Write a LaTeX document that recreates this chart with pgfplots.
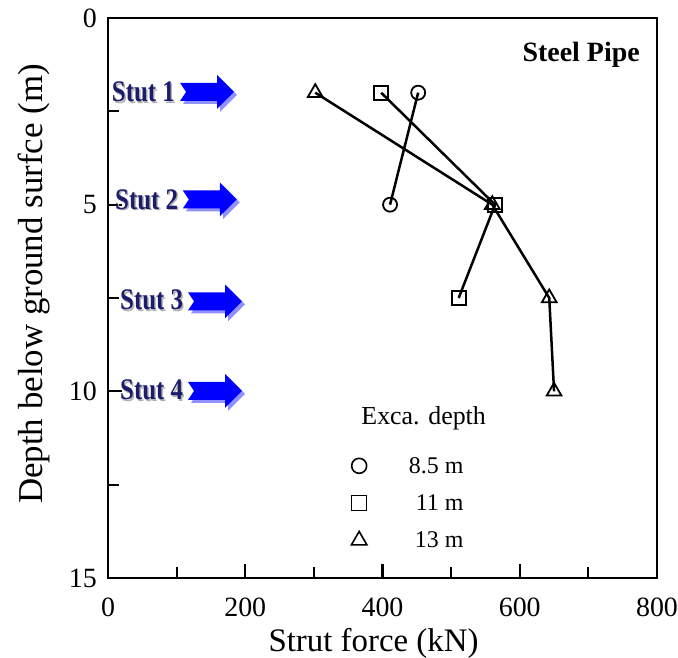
\documentclass[border=0pt]{standalone}
\usepackage{pgfplots}
\pgfplotsset{compat=1.18}
\usepackage{fontspec}
\setmainfont{Liberation Serif}
\usepackage{graphicx}
\definecolor{arrowblue}{HTML}{0000FF}
\definecolor{arrowshade}{HTML}{9090FF}
\definecolor{stutnavy}{HTML}{1C1C6C}

% block arrow with notched tail, tail at (#2,#3) in axis units
\newcommand{\strutarrow}[3]{%
  \fill[#1] ([shift={(0bp,9bp)}]axis cs:#2,#3) -- ([shift={(37bp,9bp)}]axis cs:#2,#3)
    -- ([shift={(37bp,17bp)}]axis cs:#2,#3) -- ([shift={(54bp,0bp)}]axis cs:#2,#3)
    -- ([shift={(37bp,-17bp)}]axis cs:#2,#3) -- ([shift={(37bp,-9bp)}]axis cs:#2,#3)
    -- ([shift={(0bp,-9bp)}]axis cs:#2,#3) -- ([shift={(6bp,0bp)}]axis cs:#2,#3) -- cycle;}
\newcommand{\strutmark}[5]{% label x, label y (baseline), arrow x, arrow y, text
  \node[anchor=base west, text=black!30, font=\bfseries\fontsize{25}{25}\selectfont, inner sep=0pt]
    at ([shift={(1.5bp,-1.5bp)}]axis cs:#1,#2) {\scalebox{1}[1.2]{#5}};
  \node[anchor=base west, text=stutnavy, font=\bfseries\fontsize{25}{25}\selectfont, inner sep=0pt]
    at (axis cs:#1,#2) {\scalebox{1}[1.2]{#5}};
  \strutarrow{arrowshade, xshift=3bp, yshift=-3bp}{#3}{#4}
  \strutarrow{arrowblue}{#3}{#4}}

\begin{document}
\begin{tikzpicture}
\path[use as bounding box] (0,0) rectangle (678bp,658bp);
\begin{axis}[
  at={(108bp,80bp)}, anchor=south west,
  scale only axis, width=549bp, height=560bp, clip=false,
  xmin=0, xmax=800, ymin=0, ymax=15, y dir=reverse,
  xtick={0,200,400,600,800}, ytick={0,5,10,15},
  minor x tick num=1, minor y tick num=1,
  xtick pos=bottom, ytick pos=left, tick align=inside,
  axis line style={line width=2.8bp},
  every tick/.style={black, line width=2.2bp},
  major tick length=14bp, minor tick length=11bp,
  /pgf/number format/assume math mode=true,
  x tick label style={font=\fontsize{28}{28}\selectfont, anchor=base, inner sep=0pt, yshift=-38bp},
  y tick label style={font=\fontsize{28}{28}\selectfont, anchor=east, inner sep=0pt, xshift=-11bp},
  xlabel={Strut force (kN)},
  xlabel style={font=\fontsize{33}{33}\selectfont, at={(axis description cs:0.4836,-0.132)}, anchor=base},
  ylabel={Depth below ground surfce (m)},
  ylabel style={font=\fontsize{35}{35}\selectfont, at={(axis description cs:-0.120,0.525)}, rotate=0, anchor=base},
  legend style={draw=none, fill=none, at={(axis cs:350,11.65)}, anchor=north west,
    font=\fontsize{24}{24}\selectfont, row sep=16bp,
    /tikz/every odd column/.append style={column sep=40bp}},
  legend cell align=right,
  legend image code/.code={\draw[#1] plot coordinates {(0.3cm,0cm)};},
]
\addplot[black, line width=2.5bp, mark=o, mark size=7bp, mark options={line width=1.8bp}, forget plot]
  coordinates {(452,2) (411,5)};
\addplot[black, line width=2.5bp, mark=square, mark size=7bp, mark options={line width=1.8bp}, forget plot]
  coordinates {(398,2) (564,5) (511,7.5)};
\addplot[black, line width=2.5bp, mark=triangle, mark size=8.5bp, mark options={line width=1.8bp}, forget plot]
  coordinates {(302,2) (560,5) (643,7.5) (650,10)};

\addlegendimage{only marks, mark=o, mark size=7.5bp, line width=1.6bp}
\addlegendentry{8.5 m}
\addlegendimage{only marks, mark=square, mark size=7.5bp, line width=1.6bp}
\addlegendentry{11 m}
\addlegendimage{only marks, mark=triangle, mark size=9bp, line width=1.6bp}
\addlegendentry{13 m}

\node[anchor=base, font=\fontsize{26}{26}\selectfont] at (axis cs:460,10.90) {Exca. depth};
\node[anchor=base, font=\bfseries\fontsize{28}{28}\selectfont] at (axis cs:689.5,1.17) {Steel Pipe};

\strutmark{5.4}{2.24}{105}{1.98}{Stut 1}
\strutmark{10.2}{5.12}{109}{4.86}{Stut 2}
\strutmark{17.5}{7.82}{116.6}{7.59}{Stut 3}
\strutmark{17.5}{10.23}{116.6}{9.99}{Stut 4}
\end{axis}
\end{tikzpicture}
\end{document}
